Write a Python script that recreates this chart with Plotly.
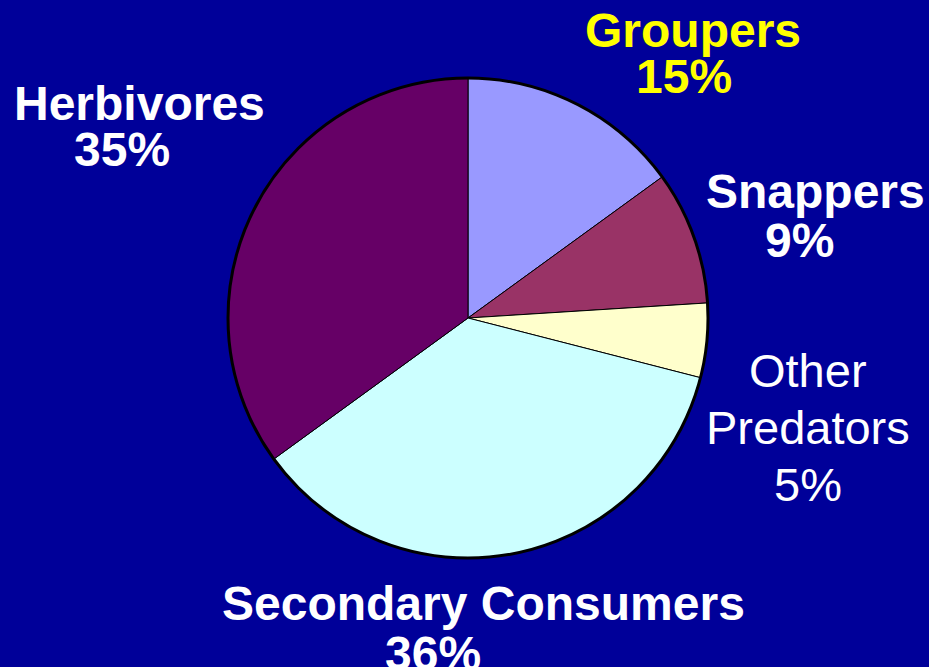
import plotly.graph_objects as go

# Reef fish biomass by trophic group
groups = ["Groupers", "Snappers", "Other Predators", "Secondary Consumers", "Herbivores"]
shares = [15, 9, 5, 36, 35]
slice_colors = ["#9999FF", "#993366", "#FFFFCC", "#CCFFFF", "#660066"]

# label text lines (name lines + percentage), weight and colour of each label
label_lines = [
    ["Groupers"],
    ["Snappers"],
    ["Other", "Predators"],
    ["Secondary Consumers"],
    ["Herbivores"],
]
label_bold = [True, True, False, True, True]
label_colors = ["#FFFF00", "#FFFFFF", "#FFFFFF", "#FFFFFF", "#FFFFFF"]

W, H = 929, 667
BG = "#000099"

# pie geometry in pixels: centre and radius
cx, cy, r = 468, 318, 240

# per-label line positions in pixels: (centre x, middle y) for each line
label_pos = [
    [(693, 30.5), (684, 76.5)],
    [(815, 191.5), (799, 240.5)],
    [(808, 370), (808, 427), (808, 484)],
    [(483, 603.5), (433, 653.5)],
    [(139, 103.5), (122, 149.5)],
]

fig = go.Figure(
    go.Pie(
        labels=groups,
        values=shares,
        sort=False,
        direction="clockwise",
        rotation=0,
        marker=dict(colors=slice_colors, line=dict(color="#000000", width=1)),
        textinfo="none",
        hoverinfo="skip",
        showlegend=False,
        domain=dict(
            x=[(cx - r) / W, (cx + r) / W],
            y=[1 - (cy + r) / H, 1 - (cy - r) / H],
        ),
    )
)

# heavier outer rim around the pie
fig.add_shape(
    type="circle",
    xref="paper",
    yref="paper",
    x0=(cx - r) / W,
    x1=(cx + r) / W,
    y0=1 - (cy + r) / H,
    y1=1 - (cy - r) / H,
    line=dict(color="#000000", width=3),
    layer="above",
)

annotations = []
for lines, share, bold, color, pos in zip(label_lines, shares, label_bold, label_colors, label_pos):
    texts = lines + [f"{share}%"]
    for t, (px, py) in zip(texts, pos):
        annotations.append(
            dict(
                text=f"<b>{t}</b>" if bold else t,
                x=px / W,
                y=1 - py / H,
                xref="paper",
                yref="paper",
                xanchor="center",
                yanchor="middle",
                showarrow=False,
                font=dict(family="Liberation Sans, Arial, sans-serif", size=48 if bold else 47, color=color),
            )
        )

fig.update_layout(
    width=W,
    height=H,
    margin=dict(l=0, r=0, t=0, b=0),
    paper_bgcolor=BG,
    plot_bgcolor=BG,
    annotations=annotations,
)

fig.write_html("out.html")
